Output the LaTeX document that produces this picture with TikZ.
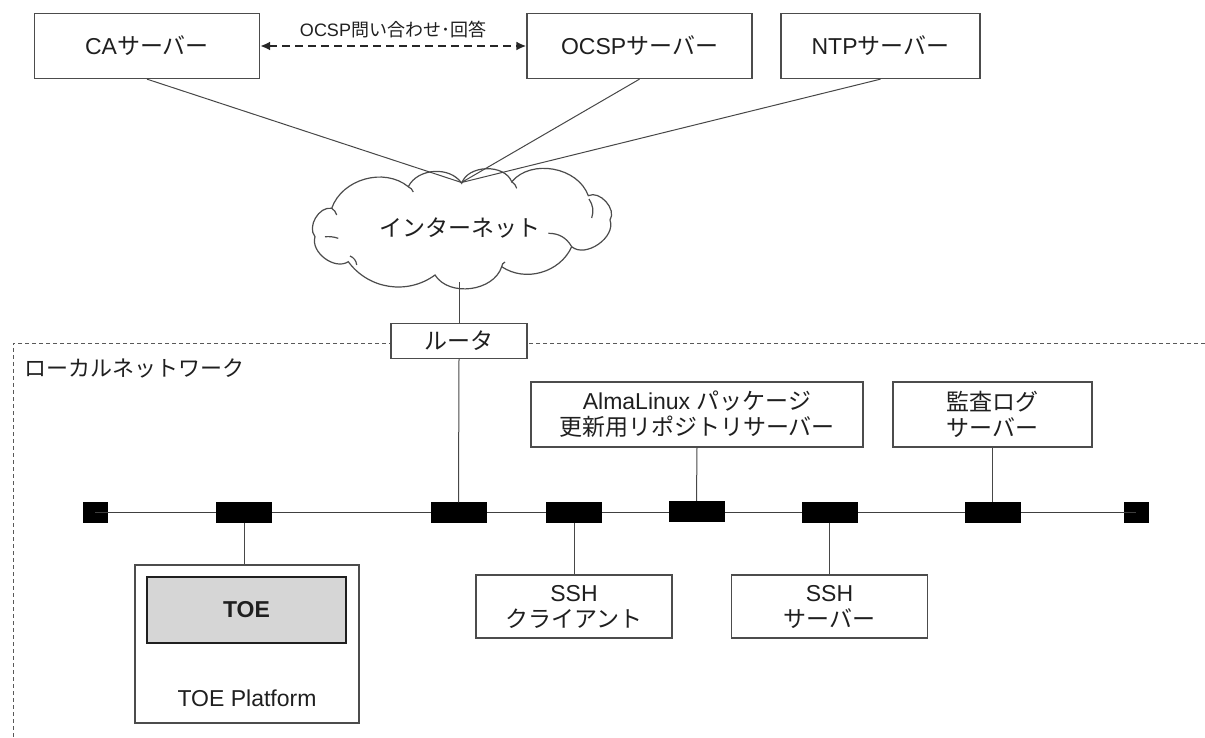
\documentclass[tikz,border=0pt]{standalone}
\usepackage{fontspec}
\setmainfont{Liberation Sans}
\newfontfamily\jp{Noto Sans CJK JP}
\usetikzlibrary{arrows.meta}
\begin{document}
\begin{tikzpicture}[x=1pt,y=-1pt,
  box/.style={draw=black!70, line width=1.3pt, fill=white, inner sep=0pt, align=center, text=black!88, font=\fontsize{23}{26}\selectfont},
  conn/.style={draw=black!72, line width=1pt},
  cloudline/.style={draw=black!70, line width=1.2pt},
  lan/.style={draw=black!65, line width=1pt, dash pattern=on 4pt off 3pt},
  sw/.style={fill=black, draw=black, inner sep=0pt, minimum width=55, minimum height=20},
  ep/.style={fill=black, draw=black, inner sep=0pt, minimum width=24, minimum height=20},
  lbl/.style={inner sep=0pt, text=black!88}]
\useasboundingbox (0,0) rectangle (1205,738);

% top servers
\node[box, minimum width=225, minimum height=65] (ca) at (147,46) {CA{\jp サーバー}};
\node[box, minimum width=225, minimum height=65] (ocsp) at (639.5,46) {OCSP{\jp サーバー}};
\node[box, minimum width=199, minimum height=65] (ntp) at (880.5,46) {NTP{\jp サーバー}};

\draw[black!85, line width=2pt, dash pattern=on 8pt off 5pt, {Latex[length=10pt,width=9pt]}-{Latex[length=10pt,width=9pt]}] (ca.east) -- (ocsp.west);
\node[lbl, font=\fontsize{18}{20}\selectfont] (q) at (393,30) {OCSP{\jp 問い合わせ･回答}};

% cloud
\coordinate (c0) at (461.7,183.3);
\coordinate (c1) at (511.7,181.7);
\coordinate (c2) at (588.3,195.7);
\coordinate (c3) at (610,220);
\coordinate (c4) at (571.7,246.7);
\coordinate (c5) at (501.7,266.7);
\coordinate (c6) at (435,275);
\coordinate (c7) at (348.3,261.7);
\coordinate (c8) at (315,236.7);
\coordinate (c9) at (331.7,208.3);
\coordinate (c10) at (408.3,186.7);
\draw[cloudline, fill=white] (c0) to[bend left=70] (c1) to[bend left=60] (c2) to[bend left=75] (c3)
  to[bend left=75] (c4) to[bend left=50] (c5) to[bend left=65] (c6) to[bend left=45] (c7)
  to[bend left=70] (c8) to[bend left=70] (c9) to[bend left=55] (c10) to[bend left=60] (c0) -- cycle;
\draw[cloudline] (c1) to[bend left=20] (516.7,188.3);
\draw[cloudline] (589,199) to[bend left=25] (591.7,218);
\draw[cloudline] (548.3,233.3) to[bend left=30] (571.7,246.7);
\draw[cloudline] (505,262) to[bend right=30] (501.7,266.7);
\draw[cloudline] (350,256) to[bend left=30] (356.7,265);
\draw[cloudline] (325,236.7) to[bend left=10] (338.3,238.3);
\draw[cloudline] (331.7,208.3) to[bend left=20] (336.7,215);
\draw[cloudline] (408.3,186.7) to[bend left=20] (413.3,192);
\node[lbl, font=\fontsize{23}{26}\selectfont] (inet) at (460,228) {{\jp インターネット}};
\coordinate (inetB) at (459,282);

\coordinate (conv) at (461.5,182.5);
\draw[conn] (ca.south) -- (conv);
\draw[conn] (ocsp.south) -- (conv);
\draw[conn] (ntp.south) -- (conv);

% local network
\coordinate (lanTR) at (1205,343);
\coordinate (lanTL) at (13,343);
\coordinate (lanBL) at (13,738);
\draw[lan] (lanTR) -- (lanTL) -- (lanBL);
\node[lbl, anchor=west, font=\fontsize{22}{26}\selectfont] (lanlbl) at (24,368) {{\jp ローカルネットワーク}};

\node[box, minimum width=136, minimum height=35] (rt) at (459,341) {{\jp ルータ}};
\draw[conn] (inetB) -- (rt.north);

% bus
\node[ep] (e1) at (95,512.5) {};
\node[ep] (e2) at (1136,512.5) {};
\draw[black!75, line width=1.3pt] (e1.center) -- (e2.center);
\node[sw] (s1) at (244,512.5) {};
\node[sw] (s2) at (458.5,512.5) {};
\node[sw] (s3) at (574,512.5) {};
\node[sw] (s4) at (696.5,511) {};
\node[sw] (s5) at (829.5,512.5) {};
\node[sw] (s6) at (992.5,512.5) {};

\draw[conn] (rt.south) -- (s2.north);

% upper boxes
\node[box, minimum width=332, minimum height=65] (alma) at (697,414.5) {AlmaLinux {\jp パッケージ}\\{\jp 更新用リポジトリサーバー}};
\node[box, minimum width=199, minimum height=65] (audit) at (992.5,414.5) {{\jp 監査ログ}\\{\jp サーバー}};
\draw[conn] (alma.south) -- (s4.north);
\draw[conn] (audit.south) -- (s6.north);

% lower boxes
\node[box, minimum width=196, minimum height=63] (sshc) at (574,606.5) {SSH\\{\jp クライアント}};
\node[box, minimum width=196, minimum height=63] (sshs) at (829.5,606.5) {SSH\\{\jp サーバー}};
\draw[conn] (s3.south) -- (sshc.north);
\draw[conn] (s5.south) -- (sshs.north);

% TOE platform
\node[box, minimum width=224, minimum height=158] (plat) at (247,644) {};
\node[box, fill=black!16, draw=black!88, line width=2pt, minimum width=199, minimum height=66, font=\fontsize{23}{26}\selectfont\bfseries] (toe) at (246.5,610) {TOE};
\node[lbl, font=\fontsize{23}{26}\selectfont] (pl) at (247,698) {TOE Platform};
\draw[conn] (s1.south) -- (s1.south |- plat.north);
\end{tikzpicture}
\end{document}
